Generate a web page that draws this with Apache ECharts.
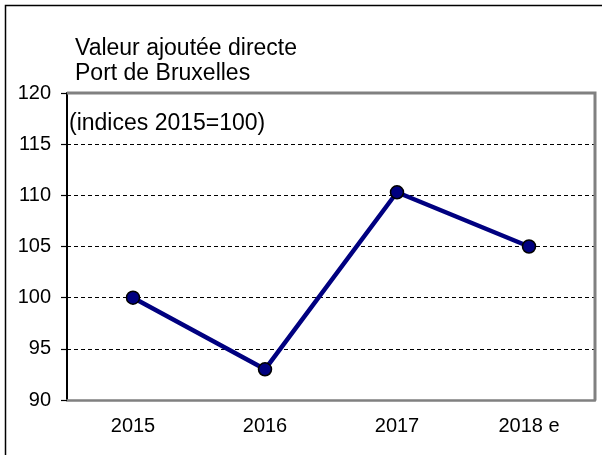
<!DOCTYPE html>
<html>
<head>
<meta charset="utf-8">
<script src="https://cdn.jsdelivr.net/npm/echarts@6/dist/echarts.min.js"></script>
<style>
    html, body { margin: 0; padding: 0; background: #fff; }
    #chart { width: 602px; height: 455px; }
</style>
</head>
<body>
<div id="chart"></div>
<script>
// données
const years = ['2015', '2016', '2017', '2018 e'];
const valeurAjoutee = [100.0, 93.0, 110.3, 105.0];
const titreLignes = ['Valeur ajoutée directe', 'Port de Bruxelles'];
const sousTitre = '(indices 2015=100)';

const font = 'Arial, "Liberation Sans", sans-serif';
const frameColor = '#808080';
const gridLeft = 67, gridRight = 7, gridTop = 93, gridBottom = 55;

const myChart = echarts.init(document.getElementById('chart'), null, { width: 602, height: 455 });

const option = {
    backgroundColor: '#fff',
    animation: false,
    title: [{
        text: titreLignes.join('\n'),
        left: 70,
        top: 31,
        textStyle: { fontFamily: font, fontSize: 23, fontWeight: 'normal', color: '#000', lineHeight: 25 }
    }, {
        text: sousTitre,
        left: 64,
        top: 107,
        textStyle: { fontFamily: font, fontSize: 23, fontWeight: 'normal', color: '#000' }
    }],
    grid: {
        left: gridLeft,
        right: gridRight,
        top: gridTop,
        bottom: gridBottom
    },
    xAxis: {
        type: 'category',
        data: years,
        boundaryGap: true,
        axisLine: { lineStyle: { color: frameColor, width: 2.5 } },
        axisTick: { show: false },
        axisLabel: { color: '#000', fontFamily: font, fontSize: 20, margin: 16 }
    },
    yAxis: {
        type: 'value',
        min: 90,
        max: 120,
        interval: 5,
        axisLine: { show: true, lineStyle: { color: '#000', width: 2 } },
        axisTick: { show: true, length: 6, lineStyle: { color: '#000', width: 1.2 } },
        axisLabel: { color: '#000', fontFamily: font, fontSize: 20, margin: 16 },
        splitLine: { lineStyle: { color: '#000', width: 1.2, type: [4, 3] } }
    },
    series: [{
        type: 'line',
        data: valeurAjoutee,
        symbol: 'circle',
        symbolSize: 13,
        lineStyle: { color: '#000080', width: 4.5 },
        itemStyle: { color: '#000080', borderColor: '#000', borderWidth: 1.5 },
        z: 5
    }]
};

myChart.setOption(option);

// cadre du graphique: bords haut et droit en gris, bordure extérieure noire
const x0 = gridLeft, x1 = 602 - gridRight, y0 = gridTop, y1 = 455 - gridBottom;
myChart.setOption({
    graphic: [{
        type: 'polyline',
        shape: { points: [[x0, y0], [x1, y0], [x1, y1]] },
        style: { fill: null, stroke: frameColor, lineWidth: 3 },
        z: 10,
        silent: true
    }, {
        type: 'polyline',
        shape: { points: [[5.5, 460], [5.5, 5.5], [610, 5.5]] },
        style: { fill: null, stroke: '#000', lineWidth: 1.5 },
        silent: true
    }]
});
</script>
</body>
</html>
